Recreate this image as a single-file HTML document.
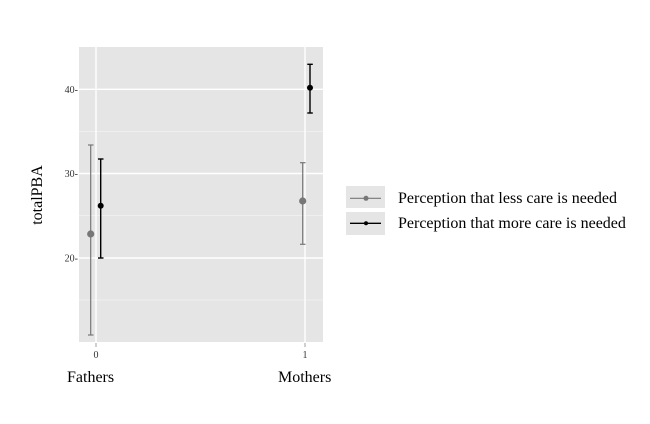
<!DOCTYPE html><html><head><style>body{margin:0;background:#fff}</style></head><body>
<svg width="650" height="419" xmlns="http://www.w3.org/2000/svg" font-family="Liberation Serif, serif">
<rect x="79" y="47" width="244" height="295" fill="#e5e5e5"/>
<g stroke="#f2f2f2" stroke-width="0.8"><line x1="79" x2="323" y1="131.5" y2="131.5"/><line x1="79" x2="323" y1="215.5" y2="215.5"/><line x1="79" x2="323" y1="300" y2="300"/></g>
<g stroke="#fff" stroke-width="1.4"><line x1="79" x2="323" y1="89.3" y2="89.3"/><line x1="79" x2="323" y1="173.5" y2="173.5"/><line x1="79" x2="323" y1="258" y2="258"/><line x1="96" x2="96" y1="47" y2="342"/><line x1="305" x2="305" y1="47" y2="342"/></g>
<g stroke="#777" stroke-width="1.2" fill="#777"><line x1="90.7" x2="90.7" y1="145" y2="335"/><line x1="88" x2="93.5" y1="145" y2="145"/><line x1="88" x2="93.5" y1="335" y2="335"/><circle cx="90.7" cy="234" r="3"/>
<line x1="302.7" x2="302.7" y1="162.7" y2="244.3"/><line x1="300" x2="305.5" y1="162.7" y2="162.7"/><line x1="300" x2="305.5" y1="244.3" y2="244.3"/><circle cx="302.7" cy="201" r="3"/></g>
<g stroke="#000" stroke-width="1.4" fill="#000"><line x1="100.7" x2="100.7" y1="159" y2="258"/><line x1="98" x2="103.5" y1="159" y2="159"/><line x1="98" x2="103.5" y1="258" y2="258"/><circle cx="100.7" cy="205.7" r="2.3"/>
<line x1="310" x2="310" y1="64.3" y2="113"/><line x1="307.3" x2="312.8" y1="64.3" y2="64.3"/><line x1="307.3" x2="312.8" y1="113" y2="113"/><circle cx="310" cy="87.7" r="2.3"/></g>
<g font-size="10" fill="#333" text-anchor="end"><text x="78" y="93">40-</text><text x="78" y="177">30-</text><text x="78" y="261.5">20-</text></g>
<g stroke="#888" stroke-width="0.8"><line x1="96" x2="96" y1="343" y2="347"/><line x1="305" x2="305" y1="343" y2="347"/></g>
<g font-size="10" fill="#333" text-anchor="middle"><text x="96" y="358">0</text><text x="305" y="358">1</text></g>
<g font-size="16" fill="#000"><text x="67" y="382">Fathers</text><text x="278" y="382">Mothers</text></g>
<text font-size="16" transform="translate(42,195) rotate(-90)" text-anchor="middle">totalPBA</text>
<rect x="346" y="186" width="39" height="22" fill="#e5e5e5"/><rect x="346" y="212" width="39" height="23" fill="#e5e5e5"/>
<line x1="350" x2="381" y1="198.3" y2="198.3" stroke="#777" stroke-width="1.2"/><circle cx="366" cy="198.3" r="2.5" fill="#777"/>
<line x1="350" x2="381" y1="223.3" y2="223.3" stroke="#000" stroke-width="1.4"/><circle cx="366" cy="223.3" r="2" fill="#000"/>
<g font-size="16" fill="#000"><text x="398" y="203">Perception that less care is needed</text><text x="398" y="228">Perception that more care is needed</text></g>
</svg></body></html>
